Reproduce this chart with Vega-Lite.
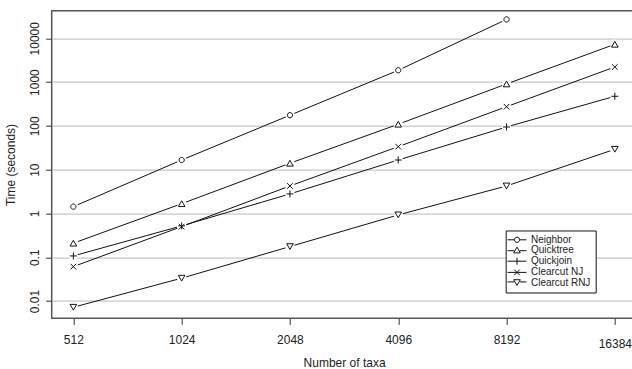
{
  "$schema": "https://vega.github.io/schema/vega-lite/v6.json",
  "autosize": "none",
  "width": 584.8,
  "height": 307.6,
  "padding": {"left": 51.7, "top": 10.7, "right": -4.8, "bottom": 50.7},
  "background": "white",
  "config": {
    "font": "Liberation Sans",
    "view": {"stroke": "#555555", "strokeWidth": 1.5}
  },
  "data": {
    "values": [
      {"taxa": 512, "time": 1.43, "series": "Neighbor"},
      {"taxa": 1024, "time": 16.6, "series": "Neighbor"},
      {"taxa": 2048, "time": 175, "series": "Neighbor"},
      {"taxa": 4096, "time": 1860, "series": "Neighbor"},
      {"taxa": 8192, "time": 27000, "series": "Neighbor"},
      {"taxa": 512, "time": 0.209, "series": "Quicktree"},
      {"taxa": 1024, "time": 1.67, "series": "Quicktree"},
      {"taxa": 2048, "time": 14.0, "series": "Quicktree"},
      {"taxa": 4096, "time": 109, "series": "Quicktree"},
      {"taxa": 8192, "time": 906, "series": "Quicktree"},
      {"taxa": 16384, "time": 7300, "series": "Quicktree"},
      {"taxa": 512, "time": 0.107, "series": "Quickjoin"},
      {"taxa": 1024, "time": 0.52, "series": "Quickjoin"},
      {"taxa": 2048, "time": 2.79, "series": "Quickjoin"},
      {"taxa": 4096, "time": 16.6, "series": "Quickjoin"},
      {"taxa": 8192, "time": 94.4, "series": "Quickjoin"},
      {"taxa": 16384, "time": 474, "series": "Quickjoin"},
      {"taxa": 512, "time": 0.061, "series": "Clearcut NJ"},
      {"taxa": 1024, "time": 0.50, "series": "Clearcut NJ"},
      {"taxa": 2048, "time": 4.24, "series": "Clearcut NJ"},
      {"taxa": 4096, "time": 33.5, "series": "Clearcut NJ"},
      {"taxa": 8192, "time": 274, "series": "Clearcut NJ"},
      {"taxa": 16384, "time": 2210, "series": "Clearcut NJ"},
      {"taxa": 512, "time": 0.0072, "series": "Clearcut RNJ"},
      {"taxa": 1024, "time": 0.0332, "series": "Clearcut RNJ"},
      {"taxa": 2048, "time": 0.175, "series": "Clearcut RNJ"},
      {"taxa": 4096, "time": 0.925, "series": "Clearcut RNJ"},
      {"taxa": 8192, "time": 4.24, "series": "Clearcut RNJ"},
      {"taxa": 16384, "time": 29.2, "series": "Clearcut RNJ"}
    ]
  },
  "encoding": {
    "x": {
      "field": "taxa",
      "type": "quantitative",
      "scale": {"type": "log", "base": 2, "domain": [445.7, 18820], "nice": false, "zero": false},
      "axis": {
        "values": [512, 1024, 2048, 4096, 8192, 16384],
        "format": "d",
        "grid": false,
        "domain": false,
        "tickSize": 6,
        "tickColor": "#333333",
        "tickWidth": 1,
        "labelFontSize": 12,
        "labelColor": "#222222",
        "labelPadding": 10,
        "labelFlush": false,
        "labelOverlap": false,
        "title": "Number of taxa",
        "titleFontSize": 12,
        "titleFontWeight": "normal",
        "titleColor": "#222222",
        "titlePadding": 8,
        "encoding": {"labels": {"dy": {"value": {"expr": "datum.value > 10000 ? 4 : 0"}}}}
      }
    },
    "y": {
      "field": "time",
      "type": "quantitative",
      "scale": {"type": "log", "domain": [0.004027, 42658], "nice": false, "zero": false},
      "axis": {
        "values": [0.01, 0.1, 1, 10, 100, 1000, 10000],
        "format": "~g",
        "grid": true,
        "gridColor": "#c8c8c8",
        "gridWidth": 1.3,
        "domain": false,
        "tickSize": 6,
        "tickColor": "#333333",
        "labelAngle": 270,
        "labelAlign": "center",
        "labelBaseline": "bottom",
        "labelFontSize": 12,
        "labelColor": "#222222",
        "labelPadding": 4,
        "labelFlush": false,
        "labelOverlap": false,
        "title": "Time (seconds)",
        "titleFontSize": 12,
        "titleFontWeight": "normal",
        "titleColor": "#222222",
        "titlePadding": 11
      }
    }
  },
  "resolve": {"scale": {"shape": "independent"}, "legend": {"shape": "independent"}},
  "layer": [
    {
      "mark": {"type": "line", "color": "#111111", "strokeWidth": 1},
      "encoding": {"detail": {"field": "series"}}
    },
    {
      "mark": {"type": "point", "shape": "circle", "filled": true, "fill": "white", "strokeWidth": 0, "size": 90, "opacity": 1}
    },
    {
      "mark": {"type": "point", "filled": false, "stroke": "#111111", "strokeWidth": 1, "size": 49, "opacity": 1},
      "encoding": {
        "shape": {
          "field": "series",
          "type": "nominal",
          "scale": {
            "domain": ["Neighbor", "Quicktree", "Quickjoin", "Clearcut NJ", "Clearcut RNJ"],
            "range": [
              "M0.75,0A0.75,0.75,0,1,1,-0.75,0A0.75,0.75,0,1,1,0.75,0Z",
              "M0,-0.82L0.95,0.82L-0.95,0.82Z",
              "M-1,0L1,0M0,-1L0,1",
              "M-0.8,-0.8L0.8,0.8M-0.8,0.8L0.8,-0.8",
              "M0,0.82L0.95,-0.82L-0.95,-0.82Z"
            ]
          },
          "legend": null
        }
      }
    },
    {
      "transform": [{"filter": "datum.taxa < 0"}],
      "mark": {"type": "point", "filled": false, "stroke": "#111111", "strokeWidth": 1, "size": 49, "opacity": 1},
      "encoding": {
        "shape": {
          "field": "series",
          "type": "nominal",
          "scale": {
            "domain": ["Neighbor", "Quicktree", "Quickjoin", "Clearcut NJ", "Clearcut RNJ"],
            "range": [
              "M-2.7,0L-0.75,0M0.75,0L2.7,0M0.75,0A0.75,0.75,0,1,1,-0.75,0A0.75,0.75,0,1,1,0.75,0Z",
              "M-2.7,0.2L-0.8,0.2M0.8,0.2L2.7,0.2M0,-0.82L0.95,0.82L-0.95,0.82Z",
              "M-2.7,0L2.7,0M0,-1L0,1",
              "M-2.7,0L2.7,0M-0.8,-0.8L0.8,0.8M-0.8,0.8L0.8,-0.8",
              "M-2.7,-0.2L-0.8,-0.2M0.8,-0.2L2.7,-0.2M0,0.82L0.95,-0.82L-0.95,-0.82Z"
            ]
          },
          "legend": {
            "title": null,
            "orient": "none",
            "legendX": 454,
            "legendY": 219.8,
            "strokeColor": "#111111",
            "fillColor": "white",
            "padding": 4.3,
            "cornerRadius": 0,
            "labelFontSize": 10,
            "labelColor": "#222222",
            "symbolSize": 49,
            "symbolStrokeWidth": 1,
            "symbolStrokeColor": "#111111",
            "symbolOffset": 2,
            "labelOffset": 9,
            "rowPadding": 0.2
          }
        }
      }
    }
  ]
}
